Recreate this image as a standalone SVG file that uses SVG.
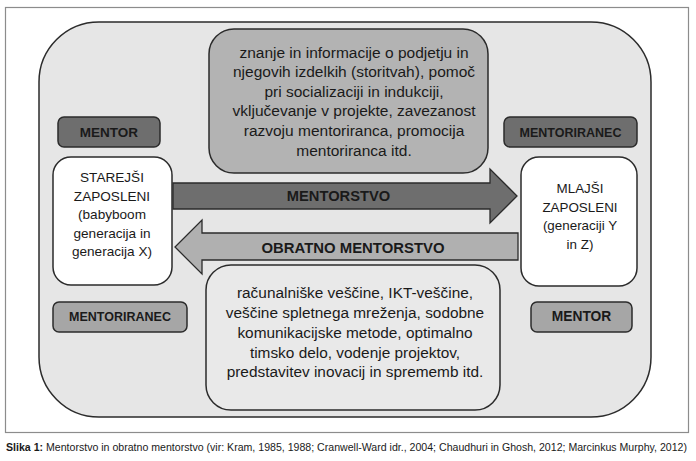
<svg xmlns="http://www.w3.org/2000/svg" width="696" height="461" viewBox="0 0 696 461">
<style>
  .t { font-family: "Liberation Sans", Arial, sans-serif; fill: #1a1a1a; text-anchor: middle; }
  .b { font-weight: bold; }
  .box { stroke: #2b2b2b; stroke-width: 1.5; }
  .arrow { stroke: #2b2b2b; stroke-width: 1.3; stroke-linejoin: miter; }
</style>
<rect x="0" y="0" width="696" height="461" fill="#ffffff"/>
<rect id="frame" x="5.5" y="7.5" width="683" height="425" fill="#ffffff" stroke="#8c8c8c" stroke-width="1.2"/>
<g id="background">
  <rect class="box" x="39" y="22" width="612" height="395" rx="60" ry="60" fill="#e6e6e6"/>
</g>
<g id="top-box">
  <rect class="box" x="209" y="29" width="279" height="144" rx="25" ry="25" fill="#b3b3b3"/>
  <text class="t" x="354" font-size="15.5"><tspan x="354" y="57.5">znanje in informacije o podjetju in</tspan><tspan x="354" y="77">njegovih izdelkih (storitvah), pomoč</tspan><tspan x="354" y="96.5">pri socializaciji in indukciji,</tspan><tspan x="354" y="116">vključevanje v projekte, zavezanost</tspan><tspan x="354" y="136">razvoju mentoriranca, promocija</tspan><tspan x="354" y="155.5">mentoriranca itd.</tspan></text>
</g>
<g id="bottom-box">
  <rect class="box" x="206" y="265" width="294" height="145" rx="25" ry="25" fill="#e9e9e9"/>
  <text class="t" x="355" font-size="15.4"><tspan x="355" y="298">računalniške veščine, IKT-veščine,</tspan><tspan x="355" y="318">veščine spletnega mreženja, sodobne</tspan><tspan x="355" y="338">komunikacijske metode, optimalno</tspan><tspan x="355" y="357.5">timsko delo, vodenje projektov,</tspan><tspan x="355" y="377">predstavitev inovacij in sprememb itd.</tspan></text>
</g>
<g id="mentor-top-left">
  <rect class="box" x="58" y="117" width="102" height="30" rx="6" ry="6" fill="#6e6e6e"/>
  <text class="t b" x="109" y="136.5" font-size="13.5">MENTOR</text>
</g>
<g id="mentoriranec-top-right">
  <rect class="box" x="504" y="117" width="133" height="30" rx="6" ry="6" fill="#6e6e6e"/>
  <text class="t b" x="570.5" y="136.5" font-size="12.5">MENTORIRANEC</text>
</g>
<g id="starejsi">
  <rect class="box" x="53" y="157" width="119" height="128" rx="18" ry="18" fill="#ffffff"/>
  <text class="t" x="112" font-size="13.6"><tspan x="112" y="182">STAREJŠI</tspan><tspan x="112" y="200.5">ZAPOSLENI</tspan><tspan x="112" y="219">(babyboom</tspan><tspan x="112" y="237.5">generacija in</tspan><tspan x="112" y="256">generacija X)</tspan></text>
</g>
<g id="mlajsi">
  <rect class="box" x="521" y="157" width="116" height="129" rx="18" ry="18" fill="#ffffff"/>
  <text class="t" x="580" font-size="13.4"><tspan x="580" y="193">MLAJŠI</tspan><tspan x="580" y="211.5">ZAPOSLENI</tspan><tspan x="580" y="230">(generaciji Y</tspan><tspan x="580" y="248.5">in Z)</tspan></text>
</g>
<g id="mentoriranec-bottom-left">
  <rect class="box" x="53" y="302" width="134" height="30" rx="6" ry="6" fill="#a6a6a6"/>
  <text class="t b" x="120" y="320.5" font-size="12.5">MENTORIRANEC</text>
</g>
<g id="mentor-bottom-right">
  <rect class="box" x="531" y="302" width="101" height="30" rx="6" ry="6" fill="#a6a6a6"/>
  <text class="t b" x="581.5" y="321" font-size="13.8">MENTOR</text>
</g>
<g id="connectors">
  <g id="arrow-mentorstvo">
    <polygon class="arrow" points="173,183 490,183 490,169 517,196 490,223 490,209 173,209" fill="#6e6e6e"/>
    <text class="t b" x="338.5" y="201.3" font-size="14.7">MENTORSTVO</text>
  </g>
  <g id="arrow-obratno">
    <polygon class="arrow" points="518,233 202,233 202,220 175,247 202,274 202,260 518,260" fill="#b0b0b0"/>
    <text class="t b" x="353" y="252.7" font-size="14.9">OBRATNO MENTORSTVO</text>
  </g>
</g>
<text x="6" y="451" font-family="'Liberation Sans', Arial, sans-serif" font-size="10.4" fill="#1a1a1a" textLength="681" lengthAdjust="spacingAndGlyphs"><tspan font-weight="bold">Slika 1:</tspan> Mentorstvo in obratno mentorstvo (vir: Kram, 1985, 1988; Cranwell-Ward idr., 2004; Chaudhuri in Ghosh, 2012; Marcinkus Murphy, 2012)</text>
</svg>
